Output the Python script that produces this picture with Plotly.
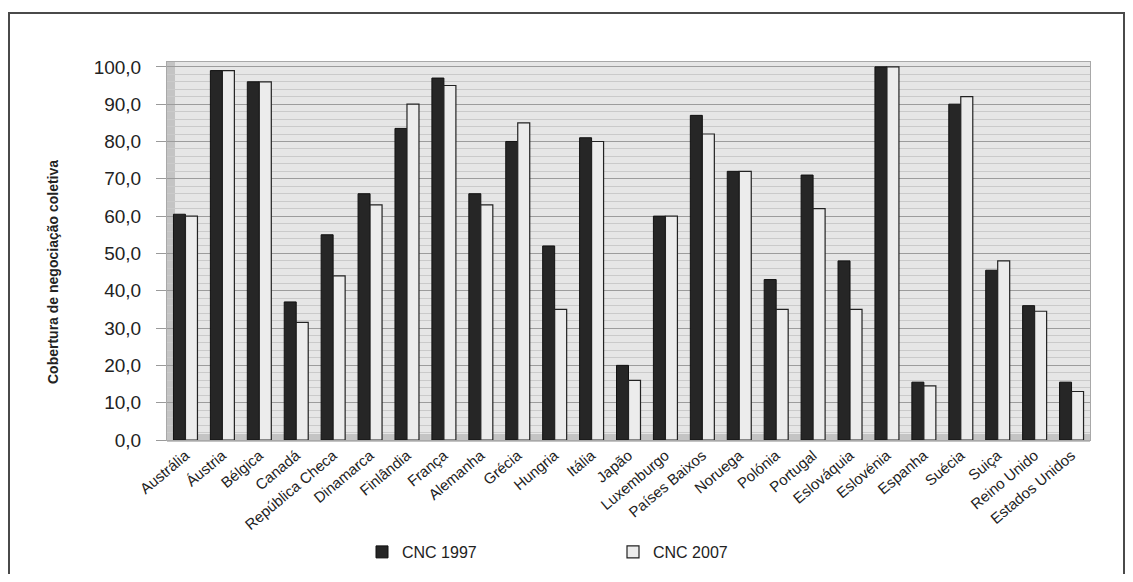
import plotly.graph_objects as go

countries = ["Austrália", "Áustria", "Bélgica", "Canadá", "República Checa", "Dinamarca",
             "Finlândia", "França", "Alemanha", "Grécia", "Hungria", "Itália", "Japão",
             "Luxemburgo", "Países Baixos", "Noruega", "Polónia", "Portugal", "Eslováquia",
             "Eslovénia", "Espanha", "Suécia", "Suiça", "Reino Unido", "Estados Unidos"]
cnc_1997 = [60.5, 99.0, 96.0, 37.0, 55.0, 66.0, 83.5, 97.0, 66.0, 80.0, 52.0, 81.0, 20.0,
            60.0, 87.0, 72.0, 43.0, 71.0, 48.0, 100.0, 15.5, 90.0, 45.5, 36.0, 15.5]
cnc_2007 = [60.0, 99.0, 96.0, 31.5, 44.0, 63.0, 90.0, 95.0, 63.0, 85.0, 35.0, 80.0, 16.0,
            60.0, 82.0, 72.0, 35.0, 62.0, 35.0, 100.0, 14.5, 92.0, 48.0, 34.5, 13.0]
y_ticks = [0, 10, 20, 30, 40, 50, 60, 70, 80, 90, 100]

# page body has an 8px margin; work in screen coordinates and subtract it
OFF = 8
W, H = 1133 - 2 * OFF, 582 - 2 * OFF
L, R, T, B = 167 - OFF, 1090 - OFF, 62 - OFF, 440 - OFF

fig = go.Figure()
fig.add_trace(go.Bar(x=countries, y=cnc_1997, name="CNC 1997",
                     marker=dict(color="#262626", line=dict(color="#111111", width=1))))
fig.add_trace(go.Bar(x=countries, y=cnc_2007, name="CNC 2007",
                     marker=dict(color="#ececec", line=dict(color="#222222", width=1.2))))

pw, ph = R - L, B - T
def px(x): return (x - OFF - L) / pw
def py(y): return (B - (y - OFF)) / ph

shapes = [
    # outer frame
    dict(type="rect", xref="paper", yref="paper", x0=px(9), x1=px(1124), y0=py(620), y1=py(13),
         line=dict(color="#4a4a4a", width=2), fillcolor="rgba(0,0,0,0)", layer="below"),
    # left wall
    dict(type="rect", xref="paper", yref="paper", x0=0, x1=px(175), y0=0, y1=1,
         line=dict(width=0), fillcolor="#c4c4c4", layer="below"),
    # floor
    dict(type="rect", xref="paper", yref="paper", x0=0, x1=1, y0=py(442), y1=py(434),
         line=dict(width=0), fillcolor="#c4c4c4", layer="below"),
]

fig.update_layout(
    width=W, height=H,
    margin=dict(l=L, r=W - R, t=T, b=H - B, autoexpand=False),
    paper_bgcolor="white", plot_bgcolor="#e6e6e6",
    font=dict(family="Liberation Sans, Arial, sans-serif", color="#222222"),
    separators=",.",
    barmode="group", bargap=0.35, bargroupgap=0.0,
    shapes=shapes,
    showlegend=True,
    legend=dict(orientation="h", x=px(362), y=py(552), xanchor="left", yanchor="middle",
                entrywidth=206, entrywidthmode="pixels", itemwidth=30,
                font=dict(size=16, color="#222222"), bgcolor="rgba(0,0,0,0)"),
    annotations=[dict(text="<b>Cobertura de negociação coletiva</b>", xref="paper", yref="paper",
                      x=px(43), y=py(272), textangle=-90, showarrow=False,
                      font=dict(size=14, color="#222222"))],
    xaxis=dict(tickangle=-40, tickfont=dict(size=15), showline=True, linecolor="#a8a8a8",
               mirror=True, ticks="", range=[-0.5, 24.5]),
    yaxis=dict(range=[0, 101.3], tickvals=y_ticks, tickformat=".1f", tickfont=dict(size=19),
               ticks="outside", ticklen=10, tickcolor="#9a9a9a", ticklabelstandoff=11,
               showgrid=True, gridcolor="#9c9c9c", gridwidth=1,
               minor=dict(dtick=2, showgrid=True, gridcolor="#cacaca", gridwidth=1),
               showline=True, linecolor="#a8a8a8", mirror=True, zeroline=False),
)

fig.write_html("out.html")
